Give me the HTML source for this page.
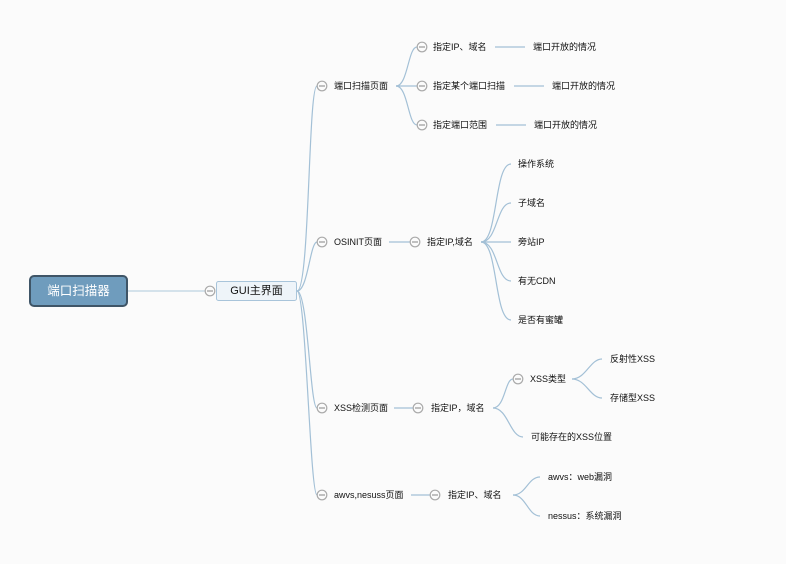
<!DOCTYPE html>
<html><head><meta charset="utf-8"><style>
html,body{margin:0;padding:0;background:#fbfbfb;}
svg{display:block}
text{font-family:"Liberation Sans","Noto Sans CJK SC",sans-serif;font-size:9px;fill:#111;dominant-baseline:central;}
.l{fill:none;stroke:#a3c0d6;stroke-width:1.2}
.c circle{fill:#fbfbfb;stroke:#aaa;stroke-width:1.2}
.c line{stroke:#999;stroke-width:1.2}
</style></head><body>
<svg width="786" height="564" viewBox="0 0 786 564" xmlns="http://www.w3.org/2000/svg">
<defs>
<g id="cc" class="c"><circle cx="0" cy="0" r="4.8"/><line x1="-3" y1="0" x2="3" y2="0"/></g>
</defs>
<!-- root -->
<line x1="127" y1="291" x2="205" y2="291" stroke="#c8d9e6" stroke-width="1.5"/>
<rect x="30" y="276" width="97" height="30" rx="4" fill="#6f9cbd" stroke="#3f5567" stroke-width="2"/>
<text x="78.5" y="291" text-anchor="middle" style="font-size:12.5px;fill:#fff">端口扫描器</text>
<use href="#cc" x="210" y="291"/>
<rect x="216.5" y="281.5" width="80" height="19" rx="2" fill="#eef4f9" stroke="#a8c4da"/>
<text x="256.5" y="291" text-anchor="middle" style="font-size:11px">GUI主界面</text>

<!-- level1 curves -->
<path class="l" d="M297 291 C310 291 308 86 317 86"/>
<path class="l" d="M297 291 C308 291 310 242 317 242"/>
<path class="l" d="M297 291 C308 291 310 408 317 408"/>
<path class="l" d="M297 291 C306 291 310 495 317 495"/>
<use href="#cc" x="322" y="86"/><text x="334" y="86">端口扫描页面</text>
<use href="#cc" x="322" y="242"/><text x="334" y="242">OSINIT页面</text>
<use href="#cc" x="322" y="408"/><text x="334" y="408">XSS检测页面</text>
<use href="#cc" x="322" y="495"/><text x="334" y="495">awvs,nesuss页面</text>

<!-- port scan -->
<path class="l" d="M396 86 C408 86 408 47 417 47"/>
<path class="l" d="M396 86 L417 86"/>
<path class="l" d="M396 86 C408 86 408 125 417 125"/>
<use href="#cc" x="422" y="47"/><text x="433" y="47">指定IP、域名</text>
<use href="#cc" x="422" y="86"/><text x="433" y="86">指定某个端口扫描</text>
<use href="#cc" x="422" y="125"/><text x="433" y="125">指定端口范围</text>
<path class="l" d="M495 47 L525 47"/><text x="533" y="47">端口开放的情况</text>
<path class="l" d="M514 86 L544 86"/><text x="552" y="86">端口开放的情况</text>
<path class="l" d="M496 125 L526 125"/><text x="534" y="125">端口开放的情况</text>

<!-- OSINIT -->
<path class="l" d="M389 242 L410 242"/>
<use href="#cc" x="415" y="242"/><text x="427" y="242">指定IP,域名</text>
<path class="l" d="M481 242 C498 242 494 164 511 164"/>
<path class="l" d="M481 242 C498 242 496 203 511 203"/>
<path class="l" d="M481 242 L511 242"/>
<path class="l" d="M481 242 C498 242 496 281 511 281"/>
<path class="l" d="M481 242 C498 242 494 320 511 320"/>
<text x="518" y="164">操作系统</text>
<text x="518" y="203">子域名</text>
<text x="518" y="242">旁站IP</text>
<text x="518" y="281">有无CDN</text>
<text x="518" y="320">是否有蜜罐</text>

<!-- XSS -->
<path class="l" d="M394 408 L413 408"/>
<use href="#cc" x="418" y="408"/><text x="431" y="408">指定IP，域名</text>
<path class="l" d="M493 408 C505 408 505 379 513 379"/>
<path class="l" d="M493 408 C508 408 510 437 523 437"/>
<use href="#cc" x="518" y="379"/><text x="530" y="379">XSS类型</text>
<text x="531" y="437">可能存在的XSS位置</text>
<path class="l" d="M572 379 C586 379 590 359 602 359"/>
<path class="l" d="M572 379 C586 379 590 398 602 398"/>
<text x="610" y="359">反射性XSS</text>
<text x="610" y="398">存储型XSS</text>

<!-- awvs -->
<path class="l" d="M411 495 L430 495"/>
<use href="#cc" x="435" y="495"/><text x="448" y="495">指定IP、域名</text>
<path class="l" d="M513 495 C526 495 528 477 540 477"/>
<path class="l" d="M513 495 C526 495 528 516 540 516"/>
<text x="548" y="477">awvs：web漏洞</text>
<text x="548" y="516">nessus：系统漏洞</text>
</svg>
</body></html>
